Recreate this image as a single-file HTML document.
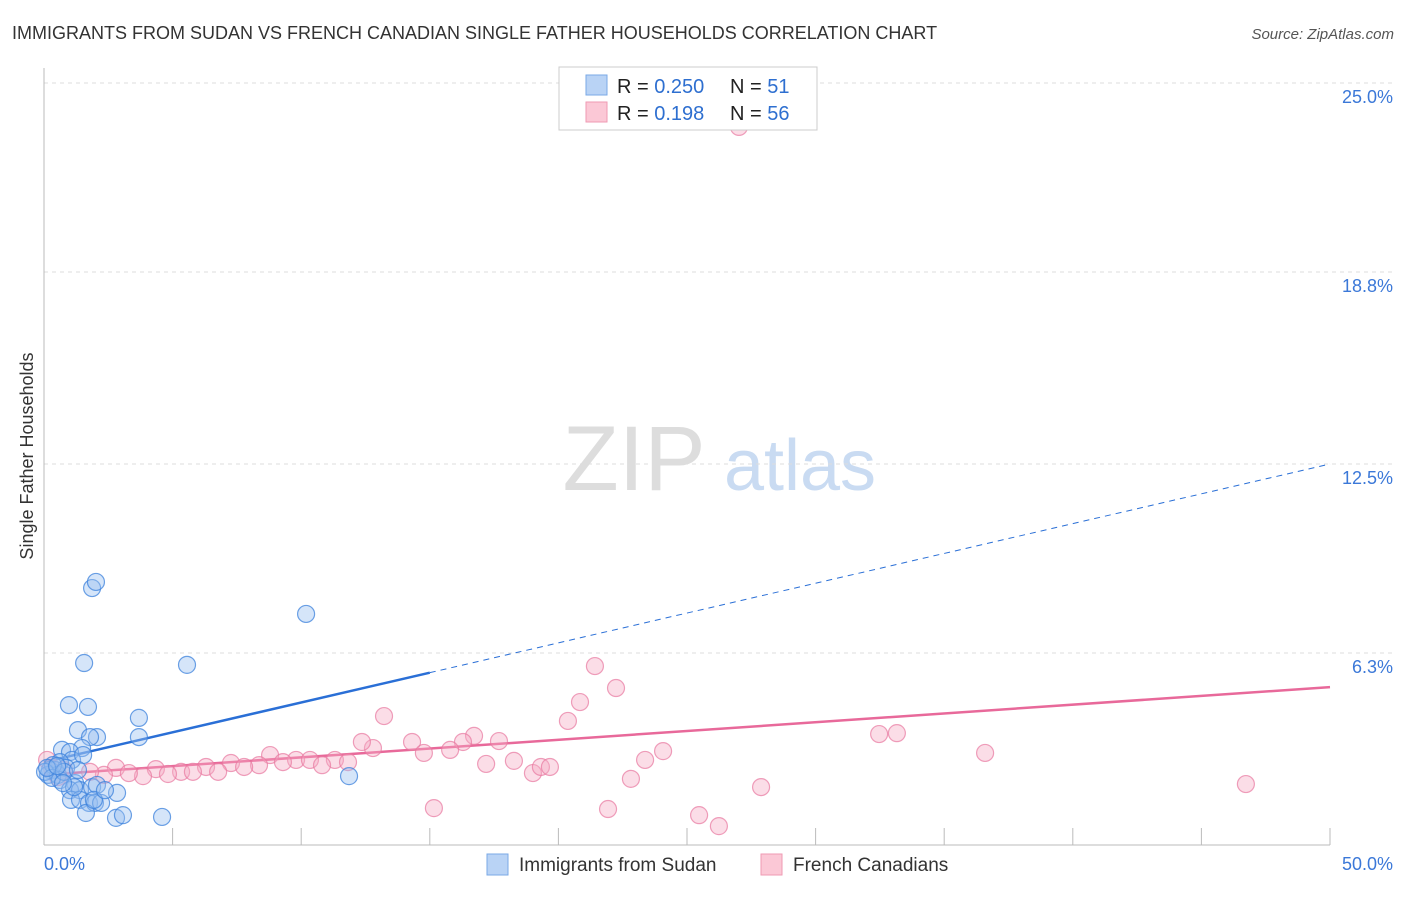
<!DOCTYPE html>
<html><head><meta charset="utf-8"><style>
body{margin:0;background:#fff;font-family:"Liberation Sans",sans-serif;}
svg text{font-family:"Liberation Sans",sans-serif;}
</style></head><body>
<svg id="c" width="1406" height="892" xmlns="http://www.w3.org/2000/svg">
<text x="12" y="39" font-size="18" fill="#333">IMMIGRANTS FROM SUDAN VS FRENCH CANADIAN SINGLE FATHER HOUSEHOLDS CORRELATION CHART</text>
<text x="1394" y="39" font-size="15" fill="#555" font-style="italic" text-anchor="end">Source: ZipAtlas.com</text>
<text x="33" y="456" font-size="18" fill="#333" text-anchor="middle" transform="rotate(-90 33 456)">Single Father Households</text>
<g><text x="634" y="490" font-size="92" fill="#ddd" font-family="Liberation Serif" text-anchor="middle">ZIP</text><text x="800" y="490" font-size="72" fill="#c9dbf2" text-anchor="middle">atlas</text></g>
<g id="grid"></g><g id="axes"></g><g id="trend"></g><g id="pts"></g>
<g>
<rect x="559" y="67" width="258" height="63" fill="#fff" stroke="#ccc"/>
<rect x="586" y="75" width="21" height="20" fill="#b9d3f5" stroke="#7aa8e6"/>
<rect x="586" y="102" width="21" height="20" fill="#fbc8d6" stroke="#ef9ab3"/>
<text x="617" y="93" font-size="20" fill="#222">R = <tspan fill="#2e6fd0">0.250</tspan></text>
<text x="730" y="93" font-size="20" fill="#222">N = <tspan fill="#2e6fd0"> 51</tspan></text>
<text x="617" y="120" font-size="20" fill="#222">R = <tspan fill="#2e6fd0"> 0.198</tspan></text>
<text x="730" y="120" font-size="20" fill="#222">N = <tspan fill="#2e6fd0">56</tspan></text>
</g>
<g>
<rect x="487" y="854" width="21" height="21" fill="#b9d3f5" stroke="#7aa8e6"/>
<text x="519" y="871" font-size="19" fill="#333">Immigrants from Sudan</text>
<rect x="761" y="854" width="21" height="21" fill="#fbc8d6" stroke="#ef9ab3"/>
<text x="793" y="871" font-size="19" fill="#333">French Canadians</text>
</g>
</svg>
<script>
const yTicks=[25.0,18.8,12.5,6.3];
const yTickLabels=["25.0%","18.8%","12.5%","6.3%"];
const xTickLabels=["0.0%","50.0%"];
const bluePx=[[92,588],[96,582],[84,663],[187,665],[306,614],[69,705],[88,707],[139,718],[139,737],[78,730],[97,737],[90,737],[82,748],[62,750],[70,752],[72,760],[83,755],[60,762],[50,770],[55,770],[48,775],[58,775],[66,768],[53,765],[60,780],[75,783],[70,790],[80,790],[92,787],[97,785],[117,793],[71,800],[80,800],[89,803],[95,803],[101,803],[86,813],[116,818],[123,815],[162,817],[349,776],[45,772],[52,778],[47,768],[64,772],[57,766],[74,787],[94,800],[63,783],[105,790],[78,770]];
const pinkPx=[[739,127],[595,666],[616,688],[580,702],[568,721],[384,716],[474,736],[499,741],[463,742],[412,742],[373,748],[362,742],[450,750],[424,753],[335,760],[348,762],[296,760],[310,760],[270,755],[283,762],[322,765],[259,765],[231,763],[244,767],[206,767],[218,772],[181,772],[193,772],[156,769],[168,774],[143,776],[116,768],[129,773],[104,775],[90,772],[64,770],[52,768],[47,760],[58,777],[486,764],[514,761],[533,773],[541,767],[550,767],[631,779],[645,760],[663,751],[879,734],[897,733],[985,753],[761,787],[434,808],[608,809],[699,815],[719,826],[1246,784]];
// data values (%), derived from reading the picture
const sudanX=bluePx.map(p=>+((p[0]-44)/25.72).toFixed(2));
const sudanY=bluePx.map(p=>+((845-p[1])/30.48).toFixed(2));
const frenchX=pinkPx.map(p=>+((p[0]-44)/25.72).toFixed(2));
const frenchY=pinkPx.map(p=>+((845-p[1])/30.48).toFixed(2));
const sudanTrend=[2.72,12.5]; // value at x=0 and x=50
const frenchTrend=[2.30,5.18];
const sudanSolidEnd=15;

const X=v=>44+v*(1286/50), Y=v=>845-v*(762/25);
const NS="http://www.w3.org/2000/svg";
function mk(tag,attrs,parent){const e=document.createElementNS(NS,tag);for(const k in attrs)e.setAttribute(k,attrs[k]);parent.appendChild(e);return e;}
const grid=document.getElementById('grid'),axes=document.getElementById('axes'),trend=document.getElementById('trend'),pts=document.getElementById('pts');
yTicks.forEach((t,i)=>{
 const l=mk('line',{x1:44,x2:1394,y1:Y(t),y2:Y(t),stroke:'#ddd','stroke-dasharray':'4 4'},grid);
 
 
 const tx=mk('text',{x:1393,y:Y(t)+20,'font-size':18,fill:'#3b78d8','text-anchor':'end'},grid);
 tx.textContent=yTickLabels[i];
 
 
});
const ax=mk('line',{x1:44,x2:1330,y1:845,y2:845,stroke:'#bbb'},axes);


const ay=mk('line',{x1:44,x2:44,y1:68,y2:845,stroke:'#bbb'},axes);


for(let v=5;v<=50;v+=5){const t=mk('line',{x1:X(v),x2:X(v),y1:828,y2:845,stroke:'#bbb'},axes);
 
 }
[[0,'start',44],[50,'end',1393]].forEach((d,i)=>{const t=mk('text',{x:d[2],y:870,'font-size':18,fill:'#3b78d8','text-anchor':d[1]},axes);t.textContent=xTickLabels[i];
 
 });
const fy=(tr,x)=>tr[0]+(tr[1]-tr[0])*x/50;
function pt(xs,ys,fill,stroke,name){xs.forEach((x,i)=>{const c=mk('circle',{cx:X(x),cy:Y(ys[i]),r:8.5,fill:fill,stroke:stroke,'stroke-width':1.2},pts);
 
 });}
pt(frenchX,frenchY,'rgba(246,170,195,0.4)','rgba(232,120,160,0.7)','french-canadian-point');
pt(sudanX,sudanY,'rgba(150,190,240,0.4)','rgba(60,130,220,0.75)','sudan-point');
let l1=mk('line',{x1:X(0),y1:Y(fy(sudanTrend,0)),x2:X(sudanSolidEnd),y2:Y(fy(sudanTrend,sudanSolidEnd)),stroke:'#2a6fd6','stroke-width':2.5},trend);


let l2=mk('line',{x1:X(sudanSolidEnd),y1:Y(fy(sudanTrend,sudanSolidEnd)),x2:X(50),y2:Y(fy(sudanTrend,50)),stroke:'#2a6fd6','stroke-width':1,'stroke-dasharray':'6 5'},trend);


let l3=mk('line',{x1:X(0),y1:Y(fy(frenchTrend,0)),x2:X(50),y2:Y(fy(frenchTrend,50)),stroke:'#e8699a','stroke-width':2.5},trend);


</script>
</body></html>
